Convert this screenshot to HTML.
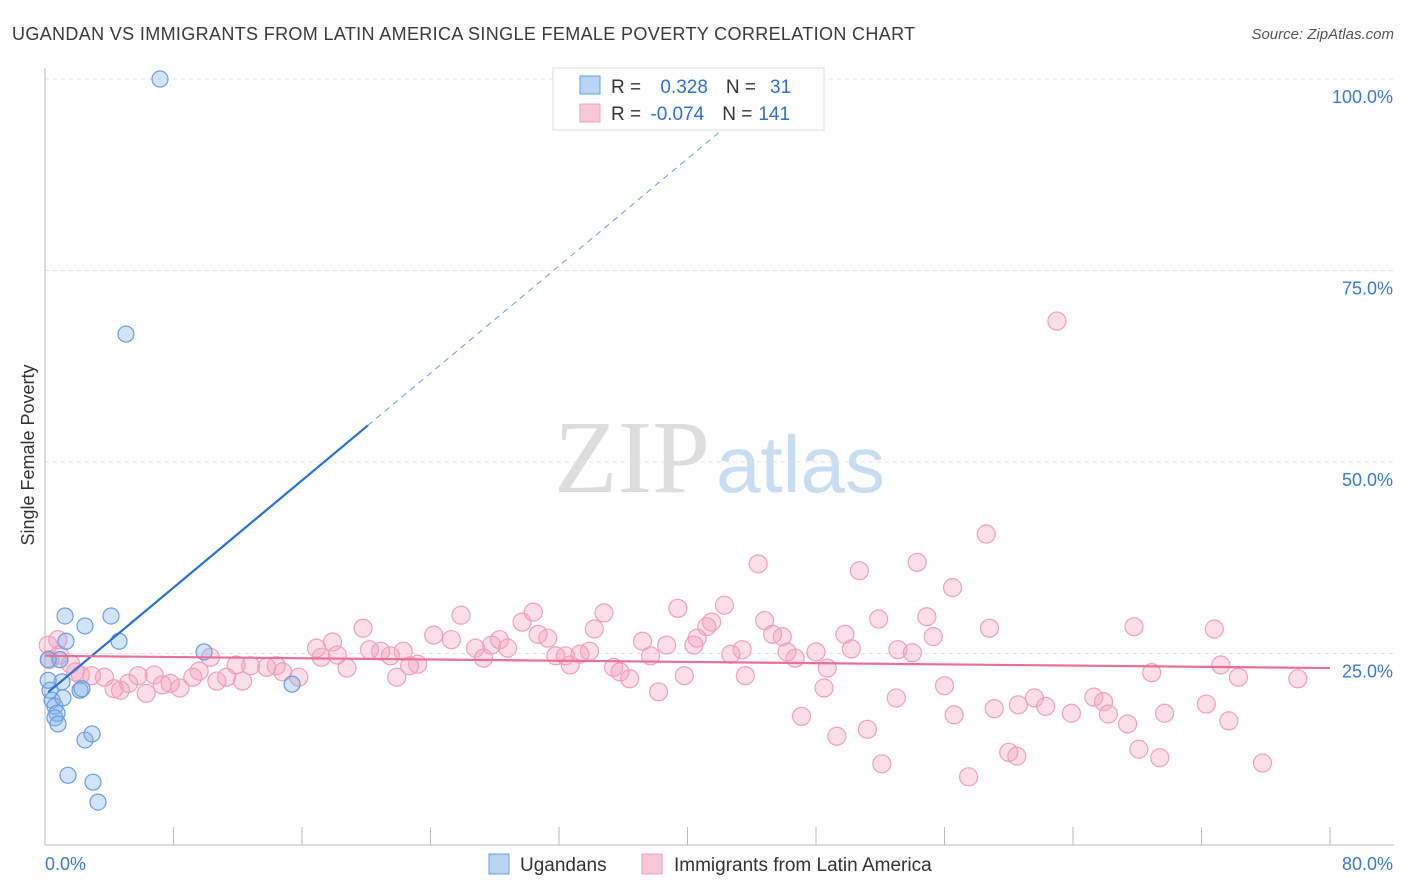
<!DOCTYPE html>
<html><head><meta charset="utf-8"><style>
body{margin:0;background:#fff;font-family:"Liberation Sans",sans-serif;}
#wrap{position:relative;width:1406px;height:892px;overflow:hidden;}
</style></head><body>
<div id="wrap">
<svg id="svg" width="1406" height="892" xmlns="http://www.w3.org/2000/svg">
<text x="12" y="40" font-size="18" fill="#3a3a3a" letter-spacing="0.35">UGANDAN VS IMMIGRANTS FROM LATIN AMERICA SINGLE FEMALE POVERTY CORRELATION CHART</text>
<text x="1394" y="39" font-size="15" fill="#555" font-style="italic" text-anchor="end">Source: ZipAtlas.com</text>
<text x="554" y="492" font-size="104" fill="#ddd" font-family="Liberation Serif,serif">ZIP</text>
<text x="716" y="492" font-size="80" fill="#c8dcf2">atlas</text>
<text transform="translate(34,455) rotate(-90)" font-size="18" fill="#333" text-anchor="middle">Single Female Poverty</text>
<g id="grid"></g><g id="pts"></g><g id="lines"></g>
<g>
<rect x="553" y="68" width="271" height="62" fill="#fff" stroke="#ddd"/>
<rect x="580" y="76" width="20" height="18" fill="#b8d4f4" stroke="#6a9de0"/>
<rect x="580" y="104" width="20" height="18" fill="#f9c8d8" stroke="#f0a0bc"/>
<text x="611" y="93" font-size="19" fill="#333">R = <tspan fill="#2f6fd6" dx="14">0.328</tspan><tspan dx="18" fill="#333">N =</tspan><tspan dx="14" fill="#2f6fd6">31</tspan></text>
<text x="611" y="120" font-size="19" fill="#333">R = <tspan fill="#2f6fd6" dx="4">-0.074</tspan><tspan dx="18" fill="#333">N =</tspan><tspan dx="6" fill="#2f6fd6">141</tspan></text>
</g>
<g>
<rect x="489" y="854" width="20" height="20" fill="#b8d4f4" stroke="#6a9de0"/>
<text x="520" y="871" font-size="19" fill="#333">Ugandans</text>
<rect x="642" y="854" width="20" height="20" fill="#f9c8d8" stroke="#f0a0bc"/>
<text x="674" y="871" font-size="19" fill="#333">Immigrants from Latin America</text>
</g>
</svg>
</div>
<script>
const yTicks=[25,50,75,100];
const xTickLabels=["0.0%","80.0%"];
const blueX=[7.16,5.04,1.25,4.11,2.49,1.31,4.61,9.9,15.38,0.93,1.06,2.18,0.31,0.44,0.62,0.75,0.62,0.81,2.49,2.93,1.43,2.99,3.3,1.12,0.2,2.3,0.2];
const blueY=[100,66.7,29.9,29.9,28.6,26.6,26.6,25.2,21.0,24.2,21.3,20.2,20.2,18.9,18.1,17.2,16.6,15.8,13.7,14.5,9.1,8.2,5.6,19.2,21.5,20.4,24.2];
const pinkX=[63.0,58.6,44.4,54.3,50.7,56.5,42.3,39.4,30.4,25.9,34.8,54.9,51.9,44.8,41.5,29.7,67.8,72.8,58.8,19.8,34.2,41.2,24.2,30.7,49.8,45.3,45.9,55.3,31.3,40.6,25.3,17.9,28.3,37.2,38.7,40.4,27.8,16.9,20.2,20.9,22.3,26.8,28.8,33.9,43.4,42.7,50.2,53.1,54.0,46.2,48.0,18.2,21.5,17.2,31.8,32.4,33.3,37.7,46.7,27.3,10.3,23.2,22.7,11.9,12.8,13.8,14.4,18.8,32.7,35.4,48.7,73.2,68.9,74.3,78.0,35.8,36.4,39.8,43.6,14.8,15.8,21.9,9.6,9.2,6.8,5.8,3.7,2.9,2.2,11.3,12.3,10.7,7.3,7.8,8.4,5.2,4.3,4.7,6.3,56.0,48.5,38.2,53.0,61.6,65.3,65.9,60.6,62.3,72.3,59.1,63.9,66.2,69.7,56.6,47.1,67.4,73.7,51.2,49.3,60.0,60.5,68.1,69.4,52.1,75.8,57.5,0.2,0.3,0.9,1.6,1.9,0.8];
const pinkY=[68.4,40.6,36.7,36.9,35.8,33.6,31.3,30.9,30.4,30.0,30.3,29.8,29.5,29.3,29.1,29.1,28.5,28.2,28.3,28.3,28.2,28.5,27.4,27.5,27.5,27.5,27.2,27.2,27.0,27.0,26.8,26.5,26.8,26.6,26.1,26.1,26.1,25.7,25.5,25.3,25.3,25.7,25.7,25.3,25.5,24.9,25.6,25.5,25.1,25.2,25.2,24.8,24.7,24.5,24.7,24.7,24.9,24.7,24.4,24.4,24.5,23.6,23.4,23.5,23.4,23.2,23.4,23.1,23.5,23.2,23.1,23.5,22.5,21.9,21.7,22.6,21.7,22.1,22.1,22.6,21.9,21.9,22.7,21.9,22.2,22.1,21.9,22.1,22.2,21.9,21.4,21.4,20.9,21.1,20.5,21.1,20.4,20.2,19.8,20.8,20.5,20.0,19.2,19.2,19.3,18.7,18.3,18.1,18.4,17.8,17.2,17.1,17.2,17.0,16.8,15.8,16.2,15.1,14.2,12.1,11.6,12.5,11.4,10.6,10.7,8.9,26.1,24.2,24.8,23.6,22.6,26.8];
const blueTrend=[19.6,1.75];
const pinkTrend=[24.7,-0.02];
const X0=45,X1=1330,Y0=845,PX=(X1-X0)/80,PY=7.66;
const sx=v=>X0+v*PX, sy=v=>Y0-v*PY;
const NS="http://www.w3.org/2000/svg";
function mk(tag,attrs,parent){const e=document.createElementNS(NS,tag);for(const k in attrs)e.setAttribute(k,attrs[k]);parent.appendChild(e);return e;}
const grid=document.getElementById('grid'),pts=document.getElementById('pts'),lines=document.getElementById('lines');
yTicks.forEach(t=>{
 const l=mk('line',{x1:X0,x2:1394,y1:sy(t),y2:sy(t),stroke:'#e2e2e2','stroke-dasharray':'4,4'},grid);
 
 
 const tx=mk('text',{x:1393,y:sy(t)+24,'font-size':18,fill:'#3b78d8','text-anchor':'end'},grid);
 tx.textContent=t.toFixed(1)+'%';
 
 
});
const ax=mk('line',{x1:X0,x2:X0,y1:68,y2:Y0,stroke:'#bbb'},grid);


const axx=mk('line',{x1:X0,x2:1394,y1:Y0,y2:Y0,stroke:'#bbb'},grid);


for(let i=0;i<=10;i++){const t=mk('line',{x1:sx(i*8),x2:sx(i*8),y1:Y0,y2:Y0-18,stroke:'#bbb'},grid);
 
 }
[[0,'start',45],[80,'end',1393]].forEach((d,i)=>{const t=mk('text',{x:d[2],y:870,'font-size':18,fill:'#3b78d8','text-anchor':d[1]},grid);t.textContent=xTickLabels[i];
 
 });
pinkX.forEach((x,i)=>{const c=mk('circle',{cx:sx(x),cy:sy(pinkY[i]),r:9,fill:'rgba(244,160,190,0.35)',stroke:'#f0a0bc','stroke-width':1.2},pts);
 
 });
blueX.forEach((x,i)=>{const c=mk('circle',{cx:sx(x),cy:sy(blueY[i]),r:8,fill:'rgba(130,175,235,0.35)',stroke:'#6a9de0','stroke-width':1.2},pts);
 
 });
const bx1=20.1, bxEnd=(100-blueTrend[0])/blueTrend[1];
const bl=mk('line',{x1:sx(0.2),y1:sy(blueTrend[0]+0.2*blueTrend[1]),x2:sx(bx1),y2:sy(blueTrend[0]+bx1*blueTrend[1]),stroke:'#2a6fd8','stroke-width':2.2},lines);


const bd=mk('line',{x1:sx(bx1),y1:sy(blueTrend[0]+bx1*blueTrend[1]),x2:sx(bxEnd),y2:sy(100),stroke:'#6a9de0','stroke-width':1,'stroke-dasharray':'6,5'},lines);


const pl=mk('line',{x1:sx(0),y1:sy(pinkTrend[0]),x2:sx(80),y2:sy(pinkTrend[0]+80*pinkTrend[1]),stroke:'#e8709a','stroke-width':2.2},lines);


</script>
</body></html>
